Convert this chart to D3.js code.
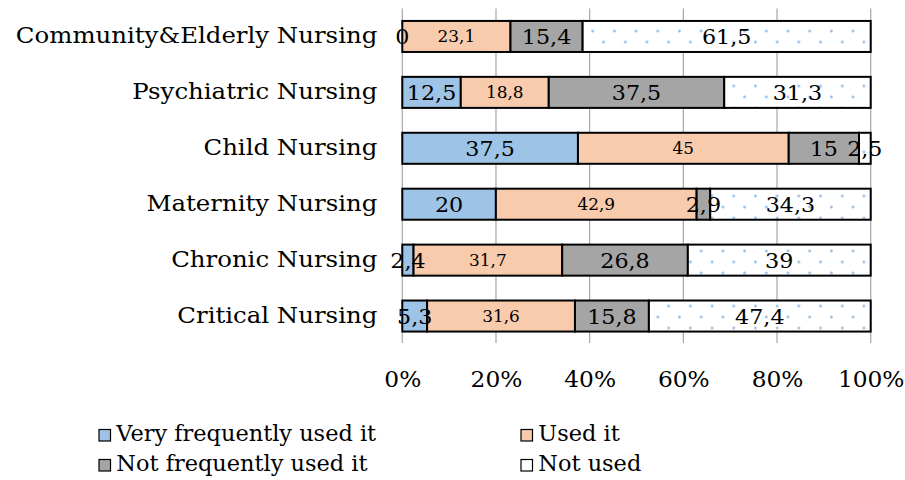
<!DOCTYPE html>
<html>
<head>
<meta charset="utf-8">
<script src="https://cdn.jsdelivr.net/npm/d3@7"></script>
<style>
  html, body { margin: 0; padding: 0; background: #fff; }
  svg { display: block; }
  text { font-family: "DejaVu Serif", "Liberation Serif", serif; fill: #000; }
</style>
</head>
<body>
<svg id="chart" width="905" height="480"></svg>
<script>
const categories = ["Community&Elderly Nursing", "Psychiatric Nursing", "Child Nursing", "Maternity Nursing", "Chronic Nursing", "Critical Nursing"];
const seriesNames = ["Very frequently used it", "Used it", "Not frequently used it", "Not used"];
const veryFrequently = [0, 12.5, 37.5, 20, 2.4, 5.3];
const usedIt = [23.1, 18.8, 45, 42.9, 31.7, 31.6];
const notFrequently = [15.4, 37.5, 15, 2.9, 26.8, 15.8];
const notUsed = [61.5, 31.3, 2.5, 34.3, 39, 47.4];
const tickValues = [0, 20, 40, 60, 80, 100];
const tickLabels = ["0%", "20%", "40%", "60%", "80%", "100%"];

const seriesValues = [veryFrequently, usedIt, notFrequently, notUsed];
const fills = ["#9DC3E6", "#F8CBAD", "#A5A5A5", "url(#dots)"];
const labelSizes = [21, 16, 21, 21];

const svg = d3.select("#chart");
const defs = svg.append("defs");
const pat = defs.append("pattern")
  .attr("id", "dots").attr("patternUnits", "userSpaceOnUse")
  .attr("width", 21.7).attr("height", 22)
  .attr("x", 587.3).attr("y", 25.5);
pat.append("rect").attr("width", 21.7).attr("height", 22).attr("fill", "#fff");
pat.append("circle").attr("cx", 5.4).attr("cy", 5.5).attr("r", 1.3).attr("fill", "#7EB1E3");
pat.append("circle").attr("cx", 16.25).attr("cy", 16.5).attr("r", 1.3).attr("fill", "#7EB1E3");

const x = d3.scaleLinear().domain([0, 100]).range([402.3, 870.7]);
const y = d3.scaleBand().domain(categories).range([8.5, 344]).paddingInner(0.445).paddingOuter(0.2225);

// x axis labels
const tickStretch = 1.06;
const xAxis = d3.axisBottom(x).tickValues(tickValues).tickFormat((d, i) => tickLabels[i]).tickSize(0).tickPadding(0);
const gx = svg.append("g").attr("transform", "translate(0,344)").call(xAxis);
gx.select(".domain").remove();
gx.selectAll("text").attr("font-size", 22).attr("dy", null).attr("y", 43)
  .attr("transform", `scale(${tickStretch},1)`).attr("y", 43)
  .style("font-family", "DejaVu Serif, serif");

// gridlines
svg.append("g").selectAll("line").data(tickValues).join("line")
  .attr("x1", d => x(d)).attr("x2", d => x(d))
  .attr("y1", 8.5).attr("y2", 343)
  .attr("stroke", "#A6A6A6").attr("stroke-width", 1.2);

// stack data (100% stacked)
const rows = categories.map((c, i) => {
  const vals = seriesValues.map(s => s[i]);
  const total = d3.sum(vals);
  let acc = 0;
  return vals.map((v, k) => {
    const start = acc / total * 100;
    acc += v;
    return { cat: c, k, v, x0: start, x1: acc / total * 100 };
  });
});
const segs = rows.flat();

svg.append("g").selectAll("rect").data(segs).join("rect")
  .attr("x", d => x(d.x0))
  .attr("y", d => y(d.cat))
  .attr("width", d => x(d.x1) - x(d.x0))
  .attr("height", y.bandwidth())
  .attr("fill", d => fills[d.k])
  .attr("stroke", "#000")
  .attr("stroke-width", 2);

const labelStretch = 1.06;
svg.append("g").selectAll("text").data(segs).join("text")
  .attr("transform", d => `translate(${(x(d.x0) + x(d.x1)) / 2},${y(d.cat) + y.bandwidth() / 2}) scale(${labelStretch},1)`)
  .attr("dy", "0.36em")
  .attr("text-anchor", "middle")
  .attr("font-size", d => labelSizes[d.k])
  .text(d => String(d.v).replace(".", ","));

// category labels
const catStretch = 1.11;
const yAxis = d3.axisLeft(y).tickSize(0).tickPadding(25);
const gy = svg.append("g").attr("transform", "translate(402.3,0)").call(yAxis);
gy.select(".domain").remove();
gy.selectAll("text").attr("font-size", 22)
  .attr("x", -25 / catStretch)
  .attr("transform", `scale(${catStretch},1)`)
  .style("font-family", "DejaVu Serif, serif");

// legend
const legendPos = [[98, 441], [520, 441], [98, 471], [520, 471]];
const legendFills = ["#9DC3E6", "#F8CBAD", "#A5A5A5", "#fff"];
const lg = svg.append("g").selectAll("g").data(seriesNames).join("g")
  .attr("transform", (d, i) => `translate(${legendPos[i][0]},${legendPos[i][1]})`);
lg.append("rect").attr("x", 1).attr("y", -11.5).attr("width", 11.5).attr("height", 11.5)
  .attr("fill", (d, i) => legendFills[i]).attr("stroke", "#000").attr("stroke-width", 1.2);
lg.append("text").attr("x", 18).attr("y", 0).attr("font-size", 22)
  .attr("transform", "scale(1.02,1)").text(d => d);
</script>
</body>
</html>
